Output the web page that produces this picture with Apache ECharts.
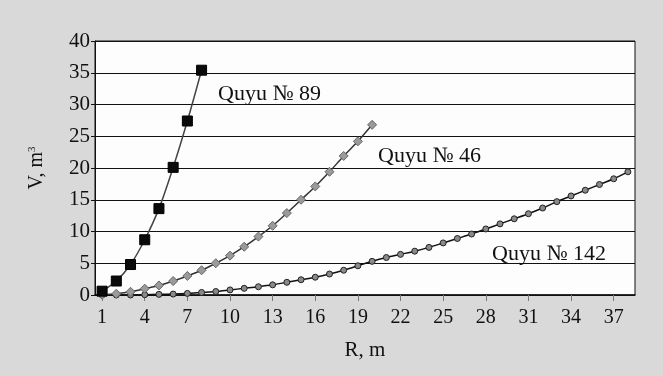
<!DOCTYPE html>
<html>
<head>
<meta charset="utf-8">
<script src="https://cdn.jsdelivr.net/npm/echarts@6/dist/echarts.min.js"></script>
<style>
html,body{margin:0;padding:0;background:#d9d9d9;}
#chart{width:663px;height:376px;}
</style>
</head>
<body>
<div id="chart"></div>
<script>
// Categories: R, m
var categories = [];
for (var r = 1; r <= 38; r++) categories.push(String(r));

// V, m3 values
var quyu89 = [0.6, 2.2, 4.8, 8.7, 13.6, 20.1, 27.4, 35.4];
var quyu46 = [0.05, 0.2, 0.5, 1.0, 1.5, 2.2, 3.0, 3.9, 5.0, 6.2, 7.6, 9.2, 10.9, 12.9, 15.0, 17.1, 19.4, 21.9, 24.2, 26.8];
var quyu142 = [0, 0, 0, 0.05, 0.1, 0.15, 0.25, 0.4, 0.55, 0.8, 1.05, 1.3, 1.6, 2.0, 2.4, 2.8, 3.3, 3.9, 4.6, 5.3, 5.9, 6.4, 6.9, 7.5, 8.2, 8.9, 9.6, 10.4, 11.2, 12.0, 12.8, 13.7, 14.7, 15.6, 16.5, 17.4, 18.3, 19.4];

var seriesNames = ['Quyu № 89', 'Quyu № 46', 'Quyu № 142'];
var yTicks = [0, 40, 5];

var serif = '"Liberation Serif", "DejaVu Serif", serif';
var chart = echarts.init(document.getElementById('chart'));
chart.setOption({
  backgroundColor: '#d9d9d9',
  animation: false,
  grid: {left: 95, right: 28, top: 41, bottom: 81, show: true, backgroundColor: '#fdfdfd', borderColor: '#111', borderWidth: 1},
  xAxis: {
    type: 'category',
    data: categories,
    boundaryGap: true,
    axisLine: {lineStyle: {color: '#111', width: 1.5}},
    axisTick: {show: true, alignWithLabel: true, interval: 2, length: 6, inside: false, lineStyle: {color: '#777'}},
    axisLabel: {interval: 2, color: '#111', fontFamily: serif, fontSize: 20, margin: 13},
    name: 'R, m',
    nameLocation: 'middle',
    nameGap: 45,
    nameTextStyle: {color: '#111', fontFamily: serif, fontSize: 21}
  },
  yAxis: {
    type: 'value',
    min: yTicks[0], max: yTicks[1], interval: yTicks[2],
    axisLine: {show: true, lineStyle: {color: '#111', width: 1}},
    axisTick: {show: true, length: 4, lineStyle: {color: '#111'}},
    splitLine: {lineStyle: {color: '#111', width: 1}},
    axisLabel: {color: '#111', fontFamily: serif, fontSize: 21, margin: 5},
    name: '{a|V, m}{s|3}',
    nameLocation: 'middle',
    nameRotate: 90,
    nameGap: 48,
    nameTextStyle: {
      rich: {
        a: {fontFamily: serif, fontSize: 20, color: '#111'},
        s: {fontFamily: serif, fontSize: 11, color: '#111', verticalAlign: 'top', padding: [0, 0, 9, 0]}
      }
    }
  },
  series: [
    {
      name: seriesNames[0], type: 'line', data: quyu89, smooth: 0.3,
      symbol: 'rect', symbolSize: 10, showAllSymbol: true,
      lineStyle: {color: '#444', width: 1.5},
      itemStyle: {color: '#0a0a0a', borderColor: '#000', borderWidth: 1},
      z: 5
    },
    {
      name: seriesNames[1], type: 'line', data: quyu46, smooth: 0.3,
      symbol: 'diamond', symbolSize: 9, showAllSymbol: true,
      lineStyle: {color: '#333', width: 1.5},
      itemStyle: {color: '#9a9a9a', borderColor: '#666', borderWidth: 1},
      z: 4
    },
    {
      name: seriesNames[2], type: 'line', data: quyu142, smooth: 0.3,
      symbol: 'circle', symbolSize: 6, showAllSymbol: true,
      lineStyle: {color: '#111', width: 1.5},
      itemStyle: {color: '#8a8a8a', borderColor: '#222', borderWidth: 1},
      z: 3
    }
  ],
  graphic: [
    {type: 'text', left: 218, top: 83, style: {text: seriesNames[0], font: '22px ' + serif, fill: '#111'}},
    {type: 'text', left: 378, top: 145, style: {text: seriesNames[1], font: '22px ' + serif, fill: '#111'}},
    {type: 'text', left: 492, top: 243, style: {text: seriesNames[2], font: '22px ' + serif, fill: '#111'}}
  ]
});
</script>
</body>
</html>
